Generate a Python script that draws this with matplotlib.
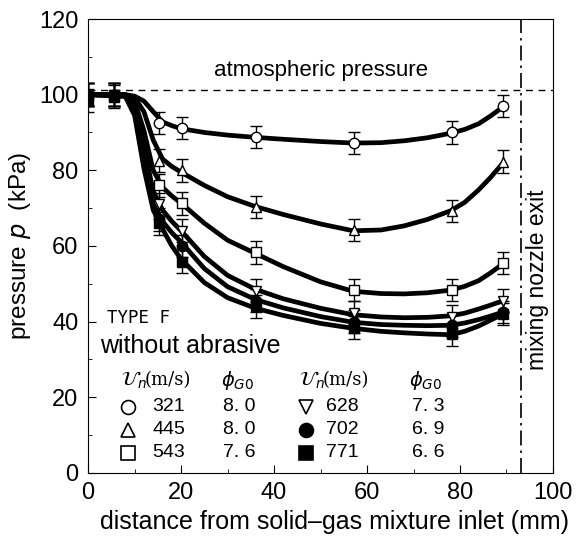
import numpy as np
from matplotlib import pyplot as plt
from matplotlib.ticker import MultipleLocator

plt.rcParams['font.family'] = ['Liberation Sans', 'DejaVu Sans']

# measured points (distance mm, pressure kPa)
x_pts = [0, 5.5, 15.3, 20.3, 36.1, 57.3, 78.3, 89.3]
un = [321, 445, 543, 628, 702, 771]
phi = ['8. 0', '8. 0', '7. 6', '7. 3', '6. 9', '6. 6']
p321 = [100, 100, 92.5, 91.2, 88.8, 87.2, 90.0, 97.0]
p445 = [100, 100, 82.5, 80.0, 70.3, 64.2, 69.2, 82.3]
p543 = [100, 100, 76.0, 71.3, 58.3, 48.3, 48.3, 55.5]
p628 = [100, 100, 71.0, 64.0, 48.2, 42.3, 41.3, 45.5]
p702 = [100, 100, 67.0, 60.0, 45.5, 40.0, 39.0, 42.5]
p771 = [98.5, 99.5, 66.0, 55.8, 44.0, 38.4, 36.6, 42.0]
err = 3.0

# fitted curves as drawn in the figure
x_fit = [0, 8, 10, 12, 14, 16, 18, 20, 25, 30, 36, 42, 50, 57, 63, 68, 73, 78, 81, 84, 86.5, 89.3]
c321 = [100, 100, 99.6, 98.3, 95.5, 92.8, 91.8, 91.0, 90.0, 89.3, 88.7, 88.2, 87.6, 87.2, 87.3, 87.8, 88.6, 89.8, 90.8, 92.3, 94.3, 96.8]
c445 = [100, 100, 99.2, 95.5, 88.0, 83.0, 81.0, 79.5, 76.0, 73.0, 70.4, 68.3, 65.8, 64.0, 64.2, 65.3, 67.0, 69.3, 71.5, 74.8, 78.0, 82.0]
c543 = [100, 100, 98.3, 90.5, 80.0, 75.5, 73.2, 71.3, 66.0, 61.5, 58.0, 54.5, 50.5, 48.0, 47.4, 47.3, 47.6, 48.3, 49.3, 50.8, 52.8, 55.3]
c628 = [100, 99.8, 96.5, 86.0, 74.5, 69.5, 66.5, 64.0, 57.2, 52.2, 48.5, 46.0, 43.5, 41.8, 41.2, 41.0, 41.1, 41.5, 42.2, 43.3, 44.3, 45.5]
c702 = [100, 99.7, 95.5, 83.0, 71.0, 66.5, 63.5, 61.0, 54.0, 49.2, 45.8, 43.6, 41.3, 39.8, 39.2, 39.0, 38.9, 39.0, 39.6, 40.5, 41.4, 42.5]
c771 = [100, 99.5, 94.5, 80.5, 69.5, 64.5, 60.0, 56.5, 50.3, 46.3, 43.5, 41.6, 39.5, 38.2, 37.4, 37.0, 36.7, 36.5, 37.4, 38.8, 40.3, 42.0]

series = [(p321, c321, 'o', 'white'), (p445, c445, '^', 'white'),
          (p543, c543, 's', 'white'), (p628, c628, 'v', 'white'),
          (p702, c702, 'o', 'black'), (p771, c771, 's', 'black')]

fig = plt.figure(figsize=(5.76, 5.44), dpi=100)
ax = fig.add_axes([0.153, 0.131, 0.807, 0.834])

for pts, cur, mk, fc in series:
    ax.plot(x_fit, cur, color='black', lw=3.4, solid_capstyle='round',
            solid_joinstyle='round', zorder=2)
    ax.errorbar(x_pts, pts, yerr=err, fmt=mk, ms=7.5, mfc=fc, mec='black', mew=1.0,
                ecolor='black', elinewidth=1.0, capsize=4, capthick=1.2, zorder=3)

ax.axhline(101.3, color='black', lw=1.0, ls=(0, (5, 4)), zorder=1)
ax.axvline(93.2, color='black', lw=1.2, ls=(0, (9, 3, 1.5, 3)), zorder=1)

ax.text(50, 106.5, 'atmospheric pressure', fontsize=16, ha='center', va='center')
ax.text(96.6, 51, 'mixing nozzle exit', fontsize=16.5, rotation=90, ha='center', va='center')
ax.text(4.0, 41, 'TYPE F', fontsize=12.5, family=['DejaVu Sans Mono'], ha='left', va='center')
ax.text(2.5, 33.5, 'without abrasive', fontsize=18, ha='left', va='center')

# legend table
rows_y = [17.5, 11.4, 5.3]
for col, (mx, vx, fx) in enumerate([(8.6, 13.8, 29.0), (46.9, 51.2, 69.6)]):
    ax.text(mx - 1.5, 24.5, r'$\mathcal{U}_n$', fontsize=14, ha='left', va='center')
    ax.text(mx + 3.6, 24.5, '(m/s)', fontsize=13, family=['DejaVu Serif'], ha='left', va='center')
    ax.text(fx - 0.5, 24.5, r'$\phi_{G0}$', fontsize=14, ha='left', va='center')
    for r in range(3):
        i = col * 3 + r
        _, _, mk, fc = series[i]
        ax.plot([mx], [rows_y[r]], marker=mk, ms=10, mfc=fc, mec='black', mew=1.2, ls='none')
        ax.text(vx, rows_y[r], str(un[i]), fontsize=14, ha='left', va='center')
        ax.text(fx, rows_y[r], phi[i], fontsize=14, ha='left', va='center')

ax.set_xlim(0, 100)
ax.set_ylim(0, 120)
ax.xaxis.set_major_locator(MultipleLocator(20))
ax.xaxis.set_minor_locator(MultipleLocator(10))
ax.yaxis.set_major_locator(MultipleLocator(20))
ax.yaxis.set_minor_locator(MultipleLocator(10))
ax.tick_params(which='both', direction='in', labelsize=17)
ax.tick_params(which='major', length=6, pad=7)
ax.tick_params(which='minor', length=3)
ax.set_xlabel('distance from solid\u2013gas mixture inlet (mm)', fontsize=18)
ax.xaxis.set_label_coords(0.53, -0.082)
ax.set_ylabel(r'pressure $p$  (kPa)', fontsize=17.5, labelpad=4)

fig.savefig('out.png')
